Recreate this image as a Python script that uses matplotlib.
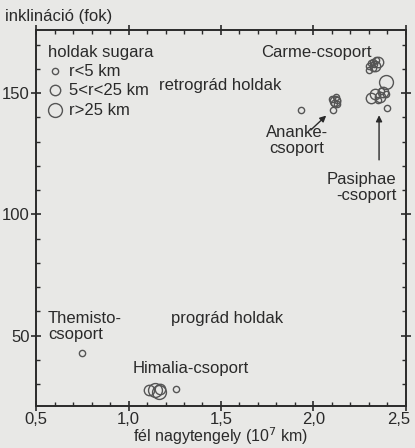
import numpy as np
import matplotlib.pyplot as plt
import matplotlib.transforms as mtransforms
from matplotlib.ticker import MultipleLocator, FuncFormatter

plt.rcParams['font.family'] = ['Liberation Sans', 'DejaVu Sans']

# semi-major axis (10^7 km), inclination (deg), size class
a_small = [0.748, 1.255, 1.935, 2.10, 2.12, 2.13, 2.11, 2.125, 2.105,
           2.30, 2.31, 2.32, 2.33, 2.34, 2.32, 2.30, 2.395, 2.35, 2.365, 2.40]
i_small = [42.8, 28.0, 143.0, 147.5, 148.5, 147.0, 146.0, 145.5, 143.0,
           161.0, 162.5, 163.0, 162.0, 163.5, 160.5, 159.5, 149.5, 147.0, 151.0, 144.0]
a_med = [1.11, 1.17, 2.115, 2.35, 2.335, 2.31, 2.335, 2.36, 2.375]
i_med = [27.5, 28.0, 146.8, 162.8, 161.0, 148.0, 149.5, 148.5, 150.5]
a_big = [1.145, 1.165, 2.39]
i_big = [27.6, 26.8, 154.5]

xticks = [0.5, 1.0, 1.5, 2.0, 2.5]
yticks = [50, 100, 150]

bg = '#e8e8e6'
ink = '#2a2a2a'
mk = '#555555'

fig = plt.figure(figsize=(4.15, 4.48), dpi=100, facecolor=bg)
ax = fig.add_axes([0.087, 0.094, 0.891, 0.839], facecolor=bg)

ax.plot(a_small, i_small, 'o', ms=4.5, mfc='none', mec=mk, mew=1.0)
ax.plot(a_med, i_med, 'o', ms=7.5, mfc='none', mec=mk, mew=1.0)
ax.plot(a_big, i_big, 'o', ms=10, mfc='none', mec=mk, mew=1.0)

# legend drawn by hand
ax.text(0.565, 166.8, 'holdak sugara', fontsize=12, color=ink, va='center')
for yy, ms, lab in [(159, 4.5, 'r<5 km'), (151.2, 7.5, '5<r<25 km'), (143, 10, 'r>25 km')]:
    ax.plot([0.604], [yy], 'o', ms=ms, mfc='none', mec=mk, mew=1.0)
    ax.text(0.68, yy, lab, fontsize=12, color=ink, va='center')

ax.text(1.167, 153.3, 'retrográd holdak', fontsize=12, color=ink, va='center')
ax.text(1.715, 166.8, 'Carme-csoport', fontsize=12, color=ink, va='center')
ax.text(1.91, 130.5, 'Ananke-\ncsoport', fontsize=12, color=ink, va='center', ha='center',
        linespacing=1.1)
ax.annotate('', xy=(2.08, 141.5), xytext=(1.975, 134),
            arrowprops=dict(arrowstyle='-|>', color=ink, lw=1, mutation_scale=9))
ax.text(2.448, 111, 'Pasiphae\n-csoport', fontsize=12, color=ink, va='center', ha='right',
        linespacing=1.1)
ax.annotate('', xy=(2.355, 142), xytext=(2.355, 121.3),
            arrowprops=dict(arrowstyle='-|>', color=ink, lw=1, mutation_scale=9))
ax.text(0.565, 53.7, 'Themisto-\ncsoport', fontsize=12, color=ink, va='center',
        linespacing=1.1)
ax.text(1.23, 57, 'prográd holdak', fontsize=12, color=ink, va='center')
ax.text(1.02, 36.5, 'Himalia-csoport', fontsize=12, color=ink, va='center')

ax.set_xlim(0.5, 2.5)
ax.set_ylim(21, 176)
ax.set_xticks(xticks)
ax.set_yticks(yticks)
ax.xaxis.set_minor_locator(MultipleLocator(0.1))
ax.yaxis.set_minor_locator(MultipleLocator(10))
ax.xaxis.set_major_formatter(FuncFormatter(lambda v, p: ('%.1f' % v).replace('.', ',')))
ax.tick_params(which='major', direction='inout', length=7, width=1.2, top=True, right=True,
               labelsize=12, colors=ink, pad=1)
ax.tick_params(which='minor', direction='in', length=3, width=1, top=True, right=True, colors=ink)
for s in ax.spines.values():
    s.set_linewidth(1.4)
    s.set_color(ink)

# keep the last tick label inside the figure
last = ax.get_xticklabels()[-1]
last.set_transform(last.get_transform() + mtransforms.ScaledTranslation(-5 / 72, 0, fig.dpi_scale_trans))

ax.set_xlabel('fél nagytengely (10$^7$ km)', fontsize=11.5, color=ink, labelpad=-1)
fig.text(0.012, 0.963, 'inklináció (fok)', fontsize=12, color=ink, va='center')

plt.savefig('out.png', dpi=100, facecolor=bg)
